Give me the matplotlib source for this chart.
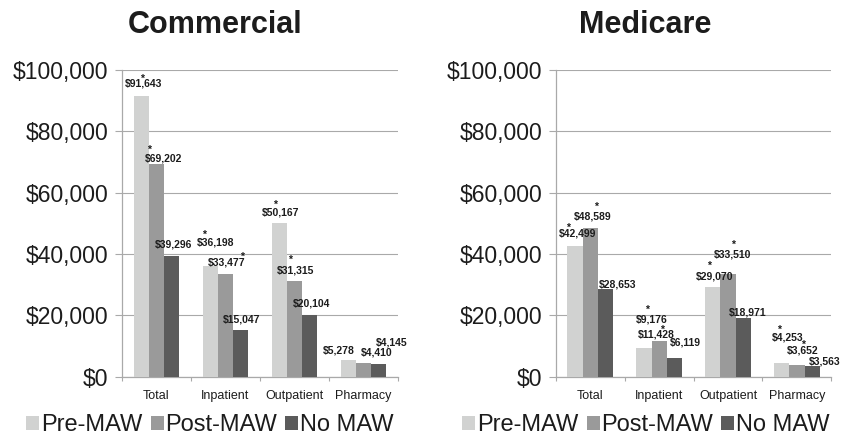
import numpy as np
import matplotlib
matplotlib.use("Agg")
import matplotlib.pyplot as plt
from matplotlib.patches import Patch
from matplotlib.ticker import FuncFormatter, FixedLocator

plt.rcParams['font.family'] = ['Liberation Sans', 'DejaVu Sans']

categories = ["Total", "Inpatient", "Outpatient", "Pharmacy"]
series = ["Pre-MAW", "Post-MAW", "No MAW"]

commercial_pre = [91643, 36198, 50167, 5278]
commercial_post = [69202, 33477, 31315, 4410]
commercial_no = [39296, 15047, 20104, 4145]

medicare_pre = [42499, 9176, 29070, 4253]
medicare_post = [48589, 11428, 33510, 3652]
medicare_no = [28653, 6119, 18971, 3563]

# significance stars (1 = marked)
commercial_sig = [[1, 1, 1, 0], [1, 1, 1, 0], [0, 0, 0, 0]]
medicare_sig = [[1, 1, 1, 1], [1, 1, 1, 1], [0, 0, 0, 0]]

colors = ["#d1d2d1", "#9a9a9a", "#5b5b5b"]
TXT = "#1c1c1c"
GRID = "#a9a9a9"

# label placement in pixels: (dx, dy of label centre above bar top, star dx, star dy)
comm_lab = [
    [(2, 12.4, 0.7, 19.7), (5.3, 24, -6.2, 33.8), (1.1, 11, -4.2, 20.4), (-9.4, 10.6, 0, 0)],
    [(7, 7, -7, 17.4), (1.5, 11.6, 16.2, 19.6), (1.3, 10.5, -4.2, 23.8), (12.7, 11.3, 0, 0)],
    [(1.6, 12.4, 0, 0), (1.2, 11.4, 0, 0), (1.5, 11.6, 0, 0), (12.4, 21.6, 0, 0)],
]
med_lab = [
    [(2.1, 12.9, -7.1, 21.2), (8.1, 29.4, 2.8, 41.7), (1.6, 11.2, -3.7, 24.1), (5.7, 26.5, -2.2, 36.8)],
    [(1.8, 11.3, 5.6, 23.6), (-3.4, 7.5, 2.5, 14.8), (4.5, 20.1, 5.3, 32.1), (5.4, 15.3, 5.9, 23.6)],
    [(12, 4.4, 0, 0), (10.8, 16, 0, 0), (4.4, 6.4, 0, 0), (12.1, 4.3, 0, 0)],
]

PX = 0.72  # points per pixel at dpi 100


def draw_panel(ax, data, sig, lab):
    x = np.arange(len(categories)) + 0.5
    w = 0.222
    for i, vals in enumerate(data):
        xs = x + (i - 1) * w
        ax.bar(xs, vals, width=w, color=colors[i], linewidth=0, zorder=3)
        for j, v in enumerate(vals):
            dx, dy, sdx, sdy = lab[i][j]
            ax.annotate(f"${v:,.0f}", xy=(xs[j], v), xytext=(dx * PX, (dy - 3.65) * PX),
                        textcoords='offset points', ha='center', va='baseline',
                        fontsize=7.5, fontweight='bold', color=TXT, zorder=5)
            if sig[i][j]:
                ax.annotate("*", xy=(xs[j], v), xytext=(sdx * PX, (sdy - 6) * PX),
                            textcoords='offset points', ha='center', va='baseline',
                            fontsize=7.5, fontweight='bold', color=TXT, zorder=5)
    ax.set_xlim(0, 4)
    ax.set_ylim(0, 100000)
    ax.set_yticks(np.arange(0, 100001, 20000))
    ax.yaxis.set_major_formatter(FuncFormatter(lambda v, p: f"${v:,.0f}"))
    ax.set_xticks(x)
    ax.set_xticklabels(categories)
    ax.xaxis.set_minor_locator(FixedLocator(np.arange(0, 5)))
    ax.tick_params(axis='x', which='major', length=0, pad=10, labelsize=9, labelcolor=TXT)
    ax.tick_params(axis='x', which='minor', length=3, width=0.8, color=GRID, direction='out')
    ax.tick_params(axis='y', length=5, width=0.8, color=GRID, pad=5, labelsize=16.5, labelcolor=TXT)
    ax.grid(axis='y', color=GRID, linewidth=0.8, zorder=0)
    ax.set_axisbelow(True)
    for s in ['top', 'right']:
        ax.spines[s].set_visible(False)
    for s in ['left', 'bottom']:
        ax.spines[s].set_color(GRID)
        ax.spines[s].set_linewidth(0.9)


fig = plt.figure(figsize=(8.48, 4.38), dpi=100)
ax1 = fig.add_axes([122 / 848, 1 - 376.5 / 438, 276 / 848, 306.5 / 438])
ax2 = fig.add_axes([556 / 848, 1 - 376.5 / 438, 275.3 / 848, 306.5 / 438])

draw_panel(ax1, [commercial_pre, commercial_post, commercial_no], commercial_sig, comm_lab)
draw_panel(ax2, [medicare_pre, medicare_post, medicare_no], medicare_sig, med_lab)

fig.text(215.5 / 848, 1 - 25 / 438, "Commercial", ha='center', va='center',
         fontsize=22, fontweight='bold', color=TXT)
fig.text(645.5 / 848, 1 - 25 / 438, "Medicare", ha='center', va='center',
         fontsize=22, fontweight='bold', color=TXT)

handles = [Patch(facecolor=c, edgecolor='none') for c in colors]
for cx in (210 / 848, 646 / 848):
    fig.legend(handles, series, loc='center', bbox_to_anchor=(cx, 1 - 425 / 438),
               ncol=3, frameon=False, fontsize=17, handlelength=0.55, handleheight=0.55,
               handletextpad=0.08, columnspacing=0.35, borderpad=0, labelcolor=TXT)

fig.savefig("out.png", dpi=100)
